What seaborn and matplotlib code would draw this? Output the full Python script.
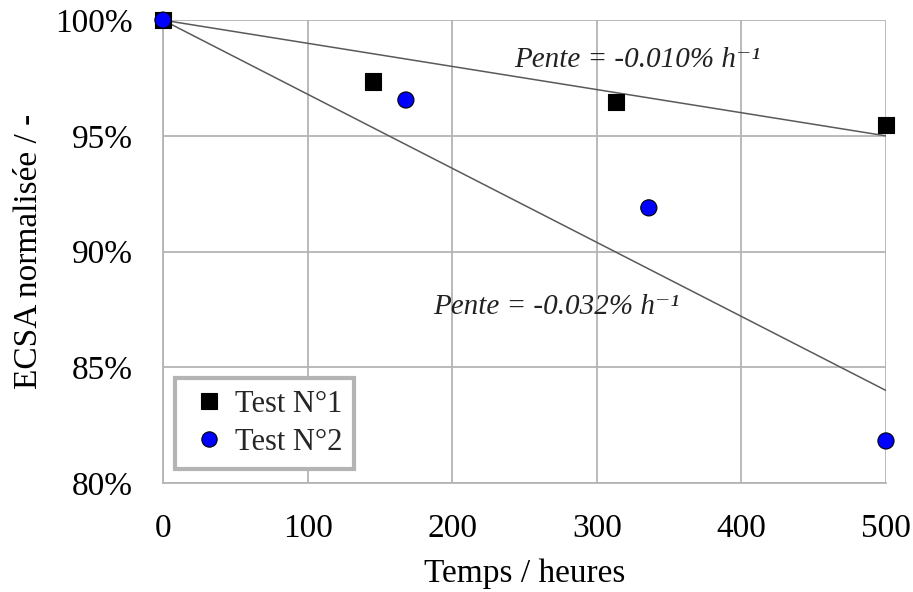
import matplotlib
matplotlib.use("Agg")
import matplotlib.pyplot as plt
import seaborn as sns
import numpy as np
import pandas as pd

# ---- data ----
test1_hours = [0, 145, 313, 500]
test1_ecsa = [1.000, 0.9735, 0.9647, 0.9547]
test2_hours = [0, 168, 336, 500]
test2_ecsa = [1.000, 0.9655, 0.9189, 0.8182]
series_names = ["Test N°1", "Test N°2"]
slopes = [-0.00010, -0.00032]  # fraction per hour
slope_labels = ["Pente = -0.010% h\u207b\u00b9", "Pente = -0.032% h\u207b\u00b9"]
x_ticks = [0, 100, 200, 300, 400, 500]
y_ticks = [0.80, 0.85, 0.90, 0.95, 1.00]
y_tick_labels = ["80%", "85%", "90%", "95%", "100%"]

df = pd.DataFrame({
    "hours": test1_hours + test2_hours,
    "ecsa": test1_ecsa + test2_ecsa,
    "test": [series_names[0]] * len(test1_hours) + [series_names[1]] * len(test2_hours),
})

sns.set_theme(style="whitegrid")
plt.rcParams["font.family"] = ["Liberation Serif", "DejaVu Serif"]

fig = plt.figure(figsize=(9.13, 5.92), dpi=100)
ax = fig.add_axes([0.1785, 0.184, 0.7919, 0.782])

grid_col = "#b4b4b4"
# trend lines
xs = np.array([0, 500])
for s in slopes:
    ax.plot(xs, 1.0 + s * xs, color="#5a5a5a", lw=1.1, zorder=3)

sns.scatterplot(data=df, x="hours", y="ecsa", hue="test", style="test",
                palette={series_names[0]: "black", series_names[1]: "#0000ff"},
                markers={series_names[0]: "s", series_names[1]: "o"},
                s=135, edgecolor="black", linewidth=0.8, ax=ax, zorder=4,
                clip_on=False)

ax.set_xlim(0, 500)
ax.set_ylim(0.80, 1.00)
ax.set_xticks(x_ticks)
ax.set_yticks(y_ticks)
ax.set_yticklabels(y_tick_labels)
ax.tick_params(axis="both", labelsize=24, length=0, colors="black")
ax.tick_params(axis="y", pad=22)
ax.tick_params(axis="x", pad=22)
ax.grid(True, color=grid_col, lw=1.3)
for side, sp in ax.spines.items():
    if side in ("left", "bottom"):
        sp.set_visible(True)
        sp.set_color(grid_col)
        sp.set_linewidth(1.3)
    else:
        sp.set_visible(False)

ax.set_xlabel("Temps / heures", fontsize=24, labelpad=10, color="black")
ax.set_ylabel("ECSA normalisée / -", fontsize=24, labelpad=8, color="black")

ax.text(328, 0.9827, slope_labels[0], fontsize=21, style="italic",
        ha="center", va="center", color="#222222")
ax.text(272, 0.876, slope_labels[1], fontsize=21, style="italic",
        ha="center", va="center", color="#222222")

leg = ax.legend(loc="lower left", bbox_to_anchor=(0.017, 0.03), borderaxespad=0,
                fontsize=22, frameon=True, fancybox=False, framealpha=1,
                handletextpad=0.15, borderpad=0.4, labelspacing=0.3,
                handlelength=1.4, markerscale=0.95)
leg.get_frame().set_edgecolor("#b4b4b4")
leg.get_frame().set_linewidth(3)

fig.savefig("out.png", dpi=100)
